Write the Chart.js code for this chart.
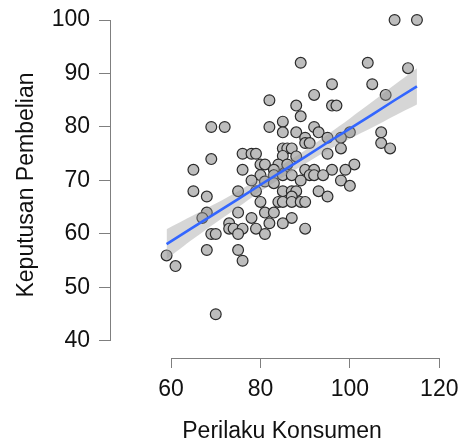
<!DOCTYPE html>
<html>
<head>
<meta charset="utf-8">
<script src="https://cdn.jsdelivr.net/npm/chart.js@4.4.1/dist/chart.umd.min.js"></script>
<style>
    html, body { margin: 0; padding: 0; background: #fff; overflow: hidden; }
    #wrap { position: relative; width: 490px; height: 443px; }
</style>
</head>
<body>
<div id="wrap"><canvas id="chart"></canvas></div>
<script>
// scatter: Perilaku Konsumen (x) vs Keputusan Pembelian (y)
const perilaku = [110, 115, 89, 104, 113, 96, 105, 92, 108, 82, 88, 96, 97, 89, 85,
    69, 72, 82, 92, 85, 88, 93, 100, 107, 90, 95, 98, 90, 91, 107,
    85, 86, 87, 98, 109, 76, 78, 79, 95, 85, 88, 69, 80, 81, 84,
    86, 101, 65, 76, 83, 90, 92, 96, 99, 80, 83, 85, 87, 91, 92,
    94, 78, 89, 98, 81, 83, 100, 65, 75, 79, 85, 87, 88, 93, 68,
    87, 95, 84, 85, 87, 89, 90, 80, 68, 75, 81, 83, 67, 78, 87,
    73, 82, 85, 73, 74, 76, 79, 90, 69, 70, 75, 81, 68, 75, 76,
    59, 61, 70];
const keputusan = [100, 100, 92, 92, 91, 88, 88, 86, 86, 85, 84, 84, 84, 82, 81,
    80, 80, 80, 80, 79, 79, 79, 79, 79, 78, 78, 78, 77, 77, 77,
    76, 76, 76, 76, 76, 75, 75, 75, 75, 74.6, 74.5, 74, 73, 73, 73,
    73, 73, 72, 72, 72, 72, 72, 72, 72, 71, 71, 71, 71, 71, 71,
    71, 70, 70, 70, 69.8, 69.5, 69, 68, 68, 68, 68, 68, 68, 68, 67,
    67, 67, 66, 66, 66, 66, 66, 66, 64, 64, 64, 64, 63, 63, 63,
    62, 62, 62, 61, 61, 61, 61, 61, 60, 60, 60, 60, 57, 57, 55,
    56, 54, 45];

// fitted line and its confidence band
const fitX   = [59, 65, 70, 75, 80, 85, 90, 95, 100, 105, 110, 115];
const fitY   = [58.1, 61.3, 63.9, 66.5, 69.2, 71.8, 74.4, 77.1, 79.7, 82.3, 85.0, 87.6];
const bandHi = [60.9, 63.5, 65.7, 68.0, 70.45, 73.0, 75.65, 78.6, 81.6, 84.7, 87.9, 91.0];
const bandLo = [55.3, 59.1, 62.1, 65.0, 67.95, 70.6, 73.15, 75.6, 77.8, 79.9, 82.1, 84.2];

const xTicks = [60, 80, 100, 120];
const yTicks = [40, 50, 60, 70, 80, 90, 100];
const xTitle = 'Perilaku Konsumen';
const yTitle = 'Keputusan Pembelian';

const FONT = "'Liberation Sans', Arial, sans-serif";
const AXIS = '#7f7f7f';

const toXY = (xs, ys) => xs.map((v, i) => ({ x: v, y: ys[i] }));

// R-style axes: lines only span first..last tick, titles placed like base graphics
const rAxes = {
    id: 'rAxes',
    afterDraw(chart) {
        const { ctx, chartArea: a, scales: { x, y } } = chart;
        ctx.save();
        ctx.strokeStyle = AXIS;
        ctx.lineWidth = 1;
        const by = Math.round(a.bottom) + 0.5;
        const lx = Math.round(a.left) - 0.5;
        ctx.beginPath();
        ctx.moveTo(x.getPixelForValue(xTicks[0]), by);
        ctx.lineTo(x.getPixelForValue(xTicks[xTicks.length - 1]), by);
        ctx.moveTo(lx, y.getPixelForValue(yTicks[0]));
        ctx.lineTo(lx, y.getPixelForValue(yTicks[yTicks.length - 1]));
        ctx.stroke();

        ctx.fillStyle = '#111';
        ctx.font = `23px ${FONT}`;
        ctx.textAlign = 'center';
        ctx.textBaseline = 'alphabetic';
        ctx.fillText(xTitle, 282, 438);
        ctx.translate(33, 185);
        ctx.rotate(-Math.PI / 2);
        ctx.fillText(yTitle, 0, 0);
        ctx.restore();
    },
};

new Chart(document.getElementById('chart'), {
    type: 'scatter',
    data: {
        datasets: [
            {
                type: 'line', data: toXY(fitX, bandHi), order: 2,
                borderWidth: 0, pointRadius: 0, tension: 0.3,
                fill: '+1', backgroundColor: 'rgba(153,153,153,0.4)',
            },
            {
                type: 'line', data: toXY(fitX, bandLo), order: 2,
                borderWidth: 0, pointRadius: 0, tension: 0.3, fill: false,
            },
            {
                type: 'line', data: toXY(fitX, fitY), order: 1,
                borderColor: '#3366ff', borderWidth: 2.6, pointRadius: 0, fill: false,
            },
            {
                data: toXY(perilaku, keputusan), order: 3, clip: false,
                pointRadius: 5.4, pointBorderWidth: 1.2,
                backgroundColor: '#bdbdbd', borderColor: '#2b2b2b',
            },
        ],
    },
    options: {
        responsive: true,
        maintainAspectRatio: false,
        animation: false,
        events: [],
        layout: { padding: { left: 51, top: 10, right: 50.7, bottom: 40 } },
        plugins: { legend: { display: false }, tooltip: { enabled: false } },
        scales: {
            x: {
                type: 'linear', min: 46.57, max: 120,
                afterBuildTicks: (s) => { s.ticks = xTicks.map((v) => ({ value: v })); },
                afterFit: (s) => { s.height = 45; s.paddingLeft = 0; s.paddingRight = 0; },
                border: { display: false },
                grid: { drawOnChartArea: false, drawTicks: true, tickLength: 10, tickColor: AXIS },
                ticks: { color: '#111', padding: 8, maxRotation: 0, font: { family: FONT, size: 23 } },
            },
            y: {
                type: 'linear', min: 36.82, max: 101.87,
                afterBuildTicks: (s) => { s.ticks = yTicks.map((v) => ({ value: v })); },
                afterFit: (s) => { s.width = 60; s.paddingTop = 0; s.paddingBottom = 0; },
                border: { display: false },
                grid: { drawOnChartArea: false, drawTicks: true, tickLength: 12, tickColor: AXIS },
                ticks: { color: '#111', padding: 9, font: { family: FONT, size: 23 } },
            },
        },
    },
    plugins: [rAxes],
});
</script>
</body>
</html>
